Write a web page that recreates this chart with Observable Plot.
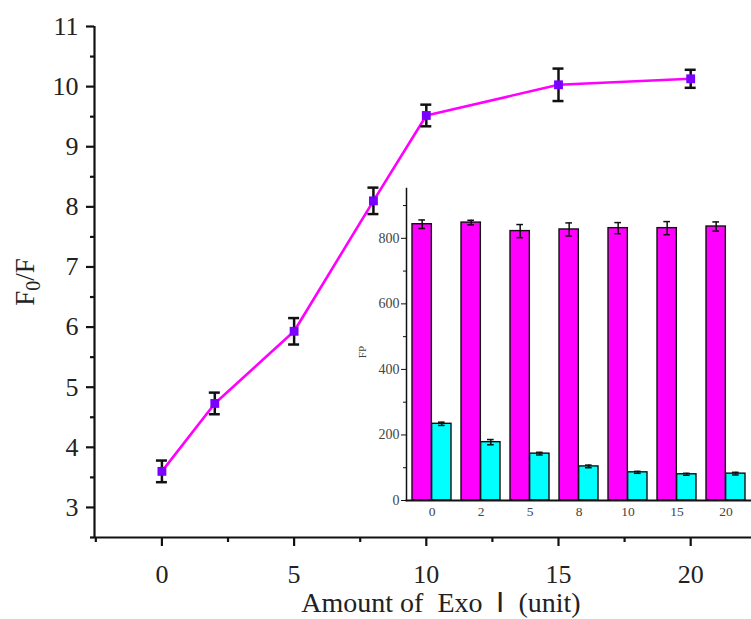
<!DOCTYPE html>
<html><head><meta charset="utf-8">
<script src="https://cdn.jsdelivr.net/npm/d3@7"></script>
<script src="https://cdn.jsdelivr.net/npm/@observablehq/plot@0.6"></script>
<style>
body{margin:0;background:#fff;}
#wrap{position:relative;width:751px;height:619px;overflow:hidden;font-family:"Liberation Serif","Times New Roman",serif;}
#main{position:absolute;left:0;top:0;}
#inset{position:absolute;left:350px;top:180px;}
.lbl{position:absolute;color:#222;white-space:nowrap;}
#xlab{left:0;width:882px;text-align:center;top:589px;font-size:28px;line-height:28px;}
#ylab{left:25px;top:282px;font-size:27px;line-height:27px;transform:translate(-50%,-50%) rotate(-90deg);}
#ylab sub{font-size:20px;vertical-align:-6px;line-height:0;}
#fplab{left:362px;top:352px;font-size:11px;color:#444;transform:translate(-50%,-50%) rotate(-90deg);}
</style></head><body>
<div id="wrap">
<div id="main"></div>
<div id="inset"></div>
<div class="lbl" id="xlab">Amount of&nbsp; Exo &nbsp;Ⅰ&nbsp; (unit)</div>
<div class="lbl" id="ylab">F<sub>0</sub>/F</div>
<div class="lbl" id="fplab">FP</div>
</div>
<script>
// Main chart data
const exoUnits = [0, 2, 5, 8, 10, 15, 20];
const ratio = [3.6, 4.73, 5.93, 8.1, 9.52, 10.03, 10.13];
const ratioErr = [0.18, 0.18, 0.22, 0.22, 0.18, 0.27, 0.15];
const mainXTicks = [0, 5, 10, 15, 20];
const mainYTicks = [3, 4, 5, 6, 7, 8, 9, 10, 11];

// Inset data
const insetCats = ["0", "2", "5", "8", "10", "15", "20"];
const fpMagenta = [843, 848, 822, 827, 831, 831, 836];
const fpMagentaErr = [13, 7, 20, 20, 17, 20, 14];
const fpCyan = [234, 178, 143, 104, 86, 80, 82];
const fpCyanErr = [5, 8, 4, 4, 3, 3, 4];
const insetYTicks = [0, 200, 400, 600, 800];

const pts = exoUnits.map((x, i) => ({x, y: ratio[i], e: ratioErr[i]}));
const ink = "#111";

const main = Plot.plot({
  width: 751, height: 619,
  marginLeft: 94, marginRight: 0, marginTop: 26, marginBottom: 82,
  style: {fontFamily: "Liberation Serif", background: "white", color: "#222"},
  x: {domain: [-2.55, 22.3]},
  y: {domain: [2.5, 11]},
  marks: [
    Plot.ruleY([2.5], {stroke: ink, strokeWidth: 2.2}),
    Plot.ruleX([-2.55], {stroke: ink, strokeWidth: 2.2}),
    Plot.axisX({ticks: mainXTicks, tickSize: 9, tickPadding: 18, fontSize: 26, strokeWidth: 2.2, stroke: ink, label: null}),
    Plot.axisX({ticks: [-2.5, 2.5, 7.5, 12.5, 17.5], tickSize: 5, tickFormat: () => "", strokeWidth: 2.2, stroke: ink, label: null}),
    Plot.axisY({ticks: mainYTicks, tickSize: 8, tickPadding: 8, fontSize: 26, strokeWidth: 2.2, stroke: ink, label: null}),
    Plot.axisY({ticks: [2.5, 3.5, 4.5, 5.5, 6.5, 7.5, 8.5, 9.5, 10.5], tickSize: 4, tickFormat: () => "", strokeWidth: 2.2, stroke: ink, label: null}),
    Plot.line(pts, {x: "x", y: "y", stroke: "#ff00ff", strokeWidth: 2.6}),
    Plot.ruleX(pts, {x: "x", y1: d => d.y - d.e, y2: d => d.y + d.e, stroke: ink, strokeWidth: 2.5}),
    Plot.ruleY(pts, {y: d => d.y - d.e, x1: "x", x2: "x", insetLeft: -5.5, insetRight: -5.5, stroke: ink, strokeWidth: 2.5}),
    Plot.ruleY(pts, {y: d => d.y + d.e, x1: "x", x2: "x", insetLeft: -5.5, insetRight: -5.5, stroke: ink, strokeWidth: 2.5}),
    Plot.dot(pts, {x: "x", y: "y", symbol: "square", r: 5, fill: "#7a00ff"})
  ]
});
document.getElementById("main").append(main);

// Inset grouped bars
const iw = 401, ih = 345, iml = 56, imr = 0;
const pIn = 0.2, pOut = 0.11;
const step = (iw - iml - imr) / (insetCats.length - pIn + 2 * pOut);
const band = step * (1 - pIn);
const half = band / 2;
const rows = insetCats.map((g, i) => ({g, m: fpMagenta[i], me: fpMagentaErr[i], c: fpCyan[i], ce: fpCyanErr[i]}));
const capHalf = 3.5;

const inset = Plot.plot({
  width: iw, height: ih,
  marginLeft: iml, marginRight: imr, marginTop: 8, marginBottom: 25,
  style: {fontFamily: "Liberation Serif", background: "transparent", color: "#444", overflow: "visible"},
  x: {domain: insetCats, paddingInner: pIn, paddingOuter: pOut},
  y: {domain: [0, 952]},
  marks: [
    Plot.barY(rows, {x: "g", y: "m", insetRight: half, fill: "#ff00ff", stroke: ink, strokeWidth: 1.4}),
    Plot.barY(rows, {x: "g", y: "c", insetLeft: half, fill: "#00ffff", stroke: ink, strokeWidth: 1.4}),
    Plot.ruleX(rows, {x: "g", y1: d => d.m - d.me, y2: d => d.m + d.me, dx: -half / 2, stroke: ink, strokeWidth: 1.5}),
    Plot.tickY(rows, {x: "g", y: d => d.m - d.me, insetLeft: half / 2 - capHalf, insetRight: half * 1.5 - capHalf, stroke: ink, strokeWidth: 1.5}),
    Plot.tickY(rows, {x: "g", y: d => d.m + d.me, insetLeft: half / 2 - capHalf, insetRight: half * 1.5 - capHalf, stroke: ink, strokeWidth: 1.5}),
    Plot.ruleX(rows, {x: "g", y1: d => d.c - d.ce, y2: d => d.c + d.ce, dx: half / 2, stroke: ink, strokeWidth: 1.5}),
    Plot.tickY(rows, {x: "g", y: d => d.c - d.ce, insetLeft: half * 1.5 - capHalf, insetRight: half / 2 - capHalf, stroke: ink, strokeWidth: 1.5}),
    Plot.tickY(rows, {x: "g", y: d => d.c + d.ce, insetLeft: half * 1.5 - capHalf, insetRight: half / 2 - capHalf, stroke: ink, strokeWidth: 1.5}),
    Plot.frame({anchor: "left", stroke: ink, strokeWidth: 1.5}),
    Plot.frame({anchor: "bottom", stroke: ink, strokeWidth: 1.8}),
    Plot.axisX({tickSize: 0, tickPadding: 6, fontSize: 13.5, label: null}),
    Plot.axisY({ticks: insetYTicks, tickSize: 5, tickPadding: 2, fontSize: 14, stroke: ink, label: null}),
    Plot.axisY({ticks: [100, 300, 500, 700, 900], tickSize: 3, tickFormat: () => "", stroke: ink, label: null})
  ]
});
document.getElementById("inset").append(inset);
</script>
</body></html>
